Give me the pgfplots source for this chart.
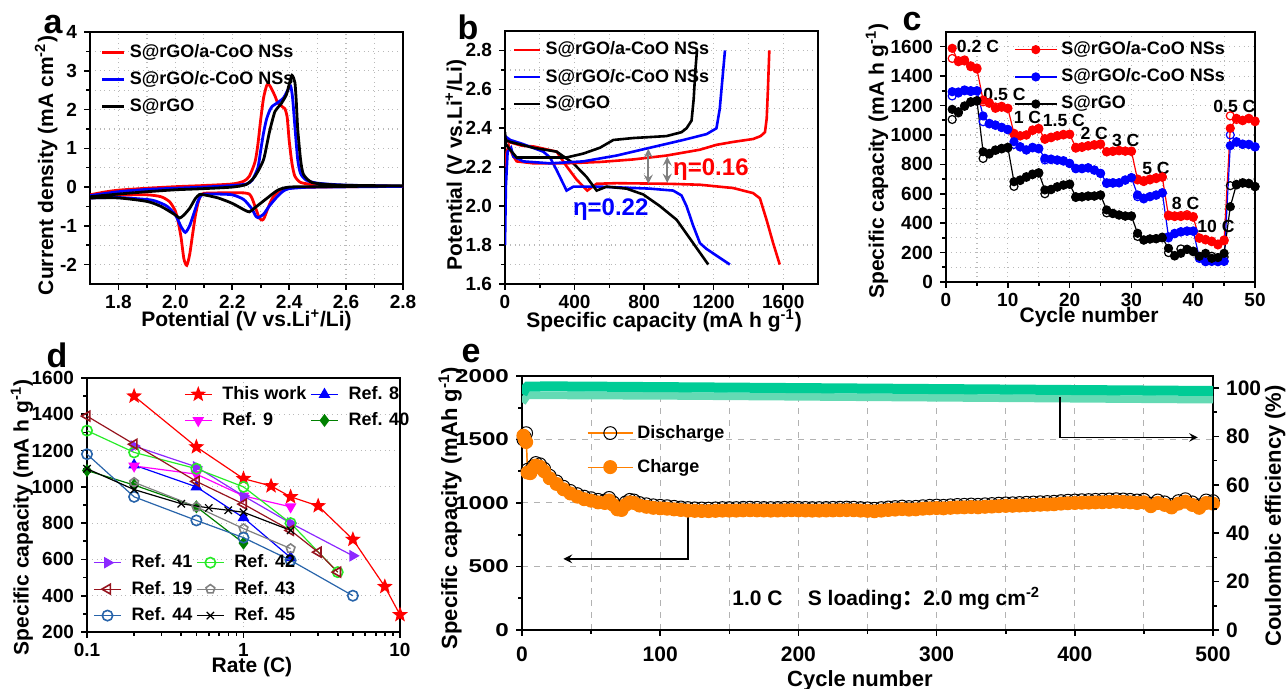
\documentclass[border=0pt]{standalone}
\usepackage{fontspec}
\setmainfont{Liberation Sans}
\newfontfamily\cjk{Noto Sans CJK SC}
\newfontfamily\widefont{Liberation Sans}[FakeStretch=1.3]
\usepackage{pgfplots}
\usepackage{pgfplotstable}
\pgfplotsset{compat=1.18}
\usetikzlibrary{plotmarks}

\definecolor{cered}{RGB}{255,0,0}
\definecolor{ceblue}{RGB}{0,0,255}
\definecolor{refmag}{RGB}{255,0,255}
\definecolor{refdkgreen}{RGB}{0,128,0}
\definecolor{refpurple}{RGB}{140,40,255}
\definecolor{reflime}{RGB}{40,235,40}
\definecolor{refmaroon}{RGB}{150,20,30}
\definecolor{refgray}{RGB}{128,128,128}
\definecolor{refsteel}{RGB}{40,100,170}
\definecolor{chgorange}{RGB}{255,128,0}
\definecolor{cegreen}{RGB}{0,204,150}
\definecolor{cegreenlt}{RGB}{100,218,180}

% filled five-pointed star
\pgfdeclareplotmark{fstar}{%
  \pgfpathmoveto{\pgfqpointpolar{90}{\pgfplotmarksize}}%
  \pgfpathlineto{\pgfqpointpolar{126}{0.42\pgfplotmarksize}}%
  \pgfpathlineto{\pgfqpointpolar{162}{\pgfplotmarksize}}%
  \pgfpathlineto{\pgfqpointpolar{198}{0.42\pgfplotmarksize}}%
  \pgfpathlineto{\pgfqpointpolar{234}{\pgfplotmarksize}}%
  \pgfpathlineto{\pgfqpointpolar{270}{0.42\pgfplotmarksize}}%
  \pgfpathlineto{\pgfqpointpolar{306}{\pgfplotmarksize}}%
  \pgfpathlineto{\pgfqpointpolar{342}{0.42\pgfplotmarksize}}%
  \pgfpathlineto{\pgfqpointpolar{18}{\pgfplotmarksize}}%
  \pgfpathlineto{\pgfqpointpolar{54}{0.42\pgfplotmarksize}}%
  \pgfpathclose\pgfusepathqfillstroke}

\pgfplotsset{
  panel/.style={
    scale only axis, anchor=south west,
    axis line style={line width=1pt},
    tick pos=left, tick align=outside,
    major tick length=3pt, minor tick length=1.8pt,
    every tick/.style={line width=0.8pt, black},
    /pgf/number format/assume math mode=true,
    /pgf/number format/1000 sep={},
    tick label style={font=\bfseries\fontsize{9.5}{10}\selectfont},
    xticklabel style={yshift=1pt},
    label style={font=\bfseries\fontsize{10.5}{12}\selectfont},
    legend style={draw=none, fill=none, font=\bfseries\fontsize{9}{10}\selectfont},
    legend cell align=left,
    grid style={gray!55, dotted, line width=0.6pt},
  },
  shortleg/.style={legend image code/.code={\draw[##1] (0pt,0pt) -- (#1,0pt);}},
  markleg/.style={legend image code/.code={%
    \draw[mark repeat=2, mark phase=2, ##1] plot coordinates {(0pt,0pt) (#1/2,0pt) (#1,0pt)};}},
}

% long cycling, 1.0 C
\pgfplotstableread{
n chg dis
1 1530 1500
2 1500 1520
3 1480 1550
4 1240 1262
6 1235 1255
8 1270 1290
10 1295 1315
13 1285 1305
16 1250 1270
20 1195 1215
25 1150 1170
30 1108 1128
35 1075 1095
40 1050 1070
45 1030 1050
50 1018 1038
55 1005 1025
60 1000 1020
63 1020 1040
66 985 1005
69 950 970
72 945 965
75 985 1005
78 1005 1025
81 1000 1020
85 980 1000
90 970 990
95 962 982
100 958 978
105 955 975
110 950 970
115 945 965
120 940 960
125 938 958
130 937 957
135 936 956
140 938 958
145 940 960
150 940 960
155 940 960
160 942 962
165 943 963
170 942 962
175 941 961
180 940 960
185 941 961
190 942 962
195 943 963
200 942 962
205 941 961
210 940 960
215 940 960
220 941 961
225 942 962
230 943 963
235 944 964
240 943 963
245 940 960
250 938 958
255 935 955
260 940 960
265 945 965
270 948 968
275 952 972
280 948 968
285 950 970
290 955 975
295 958 978
300 960 980
305 958 978
310 962 982
315 965 985
320 966 986
325 968 988
330 966 986
335 970 990
340 972 992
345 975 995
350 977 997
355 978 998
360 980 1000
365 982 1002
370 984 1004
375 986 1006
380 988 1008
385 990 1010
390 995 1015
395 998 1018
400 1000 1020
405 1002 1022
410 1003 1023
415 1005 1025
420 1006 1026
425 1008 1028
430 1010 1030
435 1008 1028
440 1005 1025
445 1000 1020
450 1005 1025
455 975 995
460 1000 1020
465 985 1005
470 965 985
475 995 1015
480 1010 1030
485 985 1005
490 962 982
495 1000 1020
500 995 1015
}\cyctab

\pgfplotstableread{
n ce celow
0.3 97.5 94.0
2 99.5 95.5
4 100.6 97.0
20 100.7 97.0
50 100.6 96.9
100 100.4 96.8
150 100.2 96.6
200 100.0 96.4
250 99.8 96.2
300 99.6 96.0
350 99.4 95.8
400 99.2 95.6
450 99.0 95.4
500 98.8 95.2
}\cetab

\begin{document}
\begin{tikzpicture}
\path[use as bounding box] (0,0) rectangle (644pt,344.5pt);

% ---------------- a: CV ----------------
\begin{axis}[panel, at={(45pt,202.5pt)}, width=156.5pt, height=126pt,
    xmin=1.7, xmax=2.8, ymin=-2.5, ymax=4,
    xtick={1.8,2.0,2.2,2.4,2.6,2.8}, minor x tick num=1,
    ytick={-2,-1,0,1,2,3,4}, minor y tick num=1,
    xticklabel style={/pgf/number format/.cd, fixed, fixed zerofill, precision=1},
    grid=both,
    xlabel={Potential (V vs.Li\textsuperscript{+}/Li)},
    ylabel={Current density (mA cm\textsuperscript{-2})},
    xlabel style={at={(axis description cs:0.5,-0.145)}, anchor=center},
    ylabel style={at={(axis description cs:-0.14,0.47)}, anchor=center},
    shortleg=11pt,
    legend style={at={(0.015,0.985)}, anchor=north west, row sep=1.5pt}]
\addplot[cered, line width=1.4pt, smooth, tension=0.4] coordinates {
 (1.70,-0.20) (1.75,-0.13) (1.80,-0.08) (1.90,-0.03) (2.00,0.01) (2.10,0.04)
 (2.20,0.08) (2.24,0.15) (2.26,0.28) (2.28,0.65) (2.29,1.10) (2.30,1.75)
 (2.31,2.30) (2.32,2.60) (2.326,2.66) (2.335,2.58) (2.35,2.35) (2.36,2.17)
 (2.375,2.08) (2.385,2.02) (2.393,1.80) (2.40,1.20) (2.41,0.60) (2.42,0.28)
 (2.44,0.12) (2.48,0.07) (2.55,0.04) (2.65,0.03) (2.80,0.02)
 (2.60,0.01) (2.50,0.00) (2.42,-0.01) (2.38,-0.05) (2.36,-0.13) (2.34,-0.30)
 (2.325,-0.55) (2.312,-0.80) (2.305,-0.85) (2.295,-0.80) (2.285,-0.60)
 (2.27,-0.30) (2.26,-0.18) (2.24,-0.15) (2.20,-0.15) (2.15,-0.15) (2.10,-0.16)
 (2.09,-0.20) (2.08,-0.40) (2.07,-0.75) (2.06,-1.25) (2.05,-1.75) (2.04,-2.02)
 (2.03,-1.85) (2.02,-1.30) (2.01,-0.90) (2.00,-0.62) (1.98,-0.38) (1.95,-0.25)
 (1.90,-0.20) (1.80,-0.21) (1.70,-0.28)};
\addlegendentry{S@rGO/a-CoO NSs}
\addplot[ceblue, line width=1.4pt, smooth, tension=0.4] coordinates {
 (1.70,-0.22) (1.80,-0.12) (1.90,-0.06) (2.00,-0.03) (2.10,0.00) (2.20,0.04)
 (2.25,0.08) (2.27,0.18) (2.29,0.50) (2.30,0.95) (2.31,1.40) (2.32,1.74)
 (2.33,1.95) (2.34,2.08) (2.36,2.18) (2.38,2.30) (2.395,2.50) (2.405,2.61)
 (2.412,2.30) (2.42,1.57) (2.43,0.71) (2.44,0.35) (2.46,0.18) (2.50,0.10)
 (2.60,0.05) (2.80,0.02)
 (2.50,0.00) (2.45,-0.01) (2.40,-0.04) (2.38,-0.10) (2.36,-0.23) (2.33,-0.49)
 (2.31,-0.70) (2.29,-0.79) (2.28,-0.72) (2.27,-0.57) (2.24,-0.32) (2.20,-0.20)
 (2.15,-0.18) (2.10,-0.18) (2.09,-0.22) (2.08,-0.35) (2.07,-0.57) (2.05,-1.00)
 (2.035,-1.17) (2.02,-1.02) (2.00,-0.72) (1.97,-0.49) (1.93,-0.36) (1.90,-0.32)
 (1.80,-0.27) (1.70,-0.28)};
\addlegendentry{S@rGO/c-CoO NSs}
\addplot[black, line width=1.4pt, smooth, tension=0.4] coordinates {
 (1.70,-0.25) (1.80,-0.18) (1.90,-0.12) (2.00,-0.07) (2.10,-0.04) (2.20,0.00)
 (2.25,0.07) (2.28,0.28) (2.31,0.71) (2.33,1.40) (2.35,1.95) (2.37,2.13)
 (2.39,2.38) (2.40,2.65) (2.41,2.88) (2.42,2.70) (2.425,2.20) (2.43,1.50)
 (2.44,0.71) (2.45,0.33) (2.48,0.12) (2.55,0.06) (2.65,0.04) (2.80,0.03)
 (2.50,0.01) (2.40,0.00) (2.36,-0.08) (2.32,-0.30) (2.28,-0.53) (2.26,-0.64)
 (2.24,-0.58) (2.20,-0.42) (2.15,-0.28) (2.10,-0.20) (2.085,-0.19) (2.07,-0.30)
 (2.05,-0.55) (2.03,-0.72) (2.015,-0.80) (2.00,-0.72) (1.95,-0.50) (1.90,-0.37)
 (1.80,-0.28) (1.70,-0.28)};
\addlegendentry{S@rGO}
\end{axis}
\node[font=\bfseries\fontsize{17}{17}\selectfont] at (26.5pt,332pt) {a};

% ---------------- b: charge/discharge ----------------
\begin{axis}[panel, at={(252.5pt,202.5pt)}, width=156.5pt, height=126.5pt,
    xmin=0, xmax=1800, ymin=1.6, ymax=2.9,
    xtick={0,400,800,1200,1600}, minor x tick num=1,
    ytick={1.6,1.8,2.0,2.2,2.4,2.6,2.8}, minor y tick num=1,
    yticklabel style={/pgf/number format/.cd, fixed, fixed zerofill, precision=1},
    grid=both,
    xlabel={Specific capacity (mA h g\textsuperscript{-1})},
    ylabel={Potential (V vs.Li\textsuperscript{+}/Li)},
    xlabel style={at={(axis description cs:0.508,-0.145)}, anchor=center},
    ylabel style={at={(axis description cs:-0.157,0.47)}, anchor=center},
    shortleg=13pt,
    legend style={at={(0.005,0.99)}, anchor=north west, row sep=1.5pt}]
\addplot[cered, line width=1.3pt] coordinates {
 (0,2.35) (20,2.33) (100,2.31) (163,2.307) (297,2.28) (354,2.205) (412,2.136)
 (473,2.08) (527,2.115) (642,2.118) (929,2.115) (1121,2.11) (1312,2.093)
 (1427,2.067) (1466,2.04) (1504,1.93) (1542,1.81) (1580,1.70)};
\addlegendentry{S@rGO/a-CoO NSs}
\addplot[ceblue, line width=1.3pt] coordinates {
 (0,2.36) (30,2.34) (100,2.32) (220,2.28) (259,2.25) (297,2.185) (354,2.08)
 (393,2.10) (546,2.10) (833,2.09) (967,2.08) (1015,2.055) (1044,2.0)
 (1082,1.9) (1121,1.81) (1159,1.78) (1293,1.70)};
\addlegendentry{S@rGO/c-CoO NSs}
\addplot[black, line width=1.3pt] coordinates {
 (0,2.34) (30,2.33) (163,2.30) (297,2.28) (393,2.22) (469,2.15) (527,2.08)
 (584,2.10) (699,2.09) (795,2.06) (891,2.0) (987,1.93) (1082,1.81) (1169,1.70)};
\addlegendentry{S@rGO}
\addplot[cered, line width=1.3pt, forget plot] coordinates {
 (0,2.20) (10,2.28) (22,2.31) (45,2.26) (67,2.23) (163,2.22) (354,2.22)
 (546,2.227) (738,2.24) (929,2.26) (1121,2.29) (1216,2.315) (1312,2.33)
 (1427,2.345) (1470,2.36) (1495,2.38) (1505,2.45) (1512,2.6) (1520,2.8)};
\addplot[ceblue, line width=1.3pt, forget plot] coordinates {
 (0,1.80) (5,2.10) (15,2.28) (35,2.30) (48,2.255) (105,2.23) (259,2.22)
 (450,2.23) (642,2.26) (833,2.30) (1025,2.34) (1159,2.37) (1216,2.40)
 (1235,2.50) (1250,2.65) (1265,2.80)};
\addplot[black, line width=1.3pt, forget plot] coordinates {
 (0,2.38) (5,2.32) (20,2.30) (67,2.25) (163,2.25) (354,2.25) (450,2.27)
 (546,2.30) (623,2.34) (738,2.35) (929,2.36) (1015,2.38) (1044,2.40)
 (1073,2.44) (1085,2.55) (1095,2.7) (1104,2.80)};
\draw[gray, line width=1pt, <->, >=stealth] (axis cs:824,2.115) -- (axis cs:824,2.295);
\draw[gray, line width=1pt, <->, >=stealth] (axis cs:933,2.12) -- (axis cs:933,2.255);
\node[anchor=west, text=cered, font=\bfseries\fontsize{12}{12}\selectfont, inner sep=0pt] at (axis cs:965,2.19) {η=0.16};
\node[anchor=west, text=ceblue, font=\bfseries\fontsize{12}{12}\selectfont, inner sep=0pt] at (axis cs:389,1.98) {η=0.22};
\end{axis}
\node[font=\bfseries\fontsize{17}{17}\selectfont] at (234pt,331pt) {b};

% ---------------- c: rate ----------------
\begin{axis}[panel, at={(473pt,203.5pt)}, width=154.5pt, height=125pt,
    xmin=0, xmax=50, ymin=0, ymax=1700,
    xtick={0,10,20,30,40,50}, minor x tick num=1,
    ytick={0,200,...,1600}, minor y tick num=1,
    grid=both,
    xlabel={Cycle number},
    ylabel={Specific capacity (mA h g\textsuperscript{-1})},
    xlabel style={at={(axis description cs:0.463,-0.14)}, anchor=center},
    ylabel style={at={(axis description cs:-0.223,0.484)}, anchor=center},
    markleg=21pt,
    legend style={at={(0.2,0.995)}, anchor=north west, row sep=1.6pt}]
\addplot[only marks, mark=o, mark size=2pt, mark options={fill=white, draw=cered, line width=0.6pt}, forget plot] coordinates {
 (1,1520) (2,1505) (3,1510) (4,1470) (5,1455) (6,1225) (7,1215) (8,1190) (9,1195) (10,1180)
 (11,1005) (12,995) (13,1000) (14,1030) (15,1040) (16,975) (17,985) (18,995) (19,1000) (20,1005)
 (21,910) (22,915) (23,925) (24,930) (25,935) (26,885) (27,888) (28,892) (29,890) (30,888)
 (31,700) (32,690) (33,700) (34,710) (35,715) (36,455) (37,450) (38,452) (39,458) (40,445)
 (41,300) (42,290) (43,278) (44,258) (45,280) (46,1130) (47,1105) (48,1100) (49,1110) (50,1095)};
\addplot[only marks, mark=o, mark size=2pt, mark options={fill=white, draw=ceblue, line width=0.6pt}, forget plot] coordinates {
 (1,1265) (2,1285) (3,1300) (4,1295) (5,1298) (6,1090) (7,1075) (8,1065) (9,1050) (10,1035)
 (11,935) (12,918) (13,898) (14,912) (15,905) (16,830) (17,832) (18,828) (19,822) (20,805)
 (21,770) (22,770) (23,775) (24,760) (25,738) (26,670) (27,672) (28,674) (29,692) (30,708)
 (31,580) (32,565) (33,580) (34,590) (35,605) (36,300) (37,328) (38,340) (39,345) (40,345)
 (41,160) (42,140) (43,142) (44,140) (45,142) (46,1000) (47,950) (48,935) (49,935) (50,918)};
\addplot[only marks, mark=o, mark size=2pt, mark options={fill=white, draw=black, line width=0.6pt}, forget plot] coordinates {
 (1,1105) (2,1150) (3,1195) (4,1222) (5,1230) (6,840) (7,870) (8,895) (9,905) (10,912)
 (11,650) (12,690) (13,712) (14,730) (15,740) (16,600) (17,628) (18,645) (19,658) (20,664)
 (21,575) (22,578) (23,583) (24,584) (25,590) (26,470) (27,465) (28,455) (29,448) (30,448)
 (31,310) (32,285) (33,292) (34,294) (35,305) (36,200) (37,180) (38,225) (39,222) (40,210)
 (41,170) (42,160) (43,175) (44,165) (45,170) (46,655) (47,660) (48,672) (49,668) (50,650)};
\addplot[cered, line width=0.6pt, mark=*, mark size=2pt] coordinates {
 (1,1589) (2,1498) (3,1503) (4,1464) (5,1448) (6,1237) (7,1219) (8,1181) (9,1188) (10,1181)
 (11,1011) (12,993) (13,1000) (14,1034) (15,1045) (16,970) (17,981) (18,993) (19,1004) (20,1004)
 (21,916) (22,920) (23,927) (24,934) (25,939) (26,886) (27,890) (28,895) (29,890) (30,890)
 (31,694) (32,683) (33,694) (34,703) (35,712) (36,449) (37,445) (38,445) (39,450) (40,440)
 (41,297) (42,286) (43,274) (44,252) (45,286) (46,1045) (47,1113) (48,1097) (49,1113) (50,1090)};
\addlegendentry{S@rGO/a-CoO NSs}
\addplot[ceblue, line width=0.6pt, mark=*, mark size=2pt] coordinates {
 (1,1294) (2,1292) (3,1306) (4,1301) (5,1301) (6,1129) (7,1079) (8,1068) (9,1052) (10,1038)
 (11,954) (12,920) (13,898) (14,916) (15,909) (16,841) (17,836) (18,830) (19,825) (20,807)
 (21,773) (22,773) (23,777) (24,762) (25,739) (26,675) (27,675) (28,675) (29,694) (30,710)
 (31,592) (32,570) (33,581) (34,592) (35,607) (36,308) (37,331) (38,342) (39,347) (40,347)
 (41,165) (42,138) (43,140) (44,138) (45,140) (46,927) (47,954) (48,938) (49,936) (50,920)};
\addlegendentry{S@rGO/c-CoO NSs}
\addplot[black, line width=0.6pt, mark=*, mark size=2pt] coordinates {
 (1,1174) (2,1158) (3,1197) (4,1226) (5,1233) (6,886) (7,875) (8,898) (9,909) (10,916)
 (11,682) (12,694) (13,716) (14,734) (15,743) (16,626) (17,630) (18,648) (19,660) (20,666)
 (21,580) (22,580) (23,585) (24,585) (25,592) (26,490) (27,467) (28,456) (29,449) (30,449)
 (31,331) (32,286) (33,293) (34,295) (35,300) (36,229) (37,177) (38,195) (39,222) (40,206)
 (41,175) (42,195) (43,161) (44,166) (45,195) (46,512) (47,664) (48,675) (49,671) (50,648)};
\addlegendentry{S@rGO}
\begin{scope}[every node/.style={font=\bfseries\fontsize{8.8}{9}\selectfont, inner sep=0pt, anchor=west}]
\node at (axis cs:1.7,1605) {0.2 C};
\node at (axis cs:6,1278) {0.5 C};
\node at (axis cs:10.9,1120) {1 C};
\node at (axis cs:15.6,1100) {1.5 C};
\node at (axis cs:21.7,1011) {2 C};
\node at (axis cs:26.8,965) {3 C};
\node at (axis cs:31.7,773) {5 C};
\node at (axis cs:36.5,535) {8 C};
\node at (axis cs:40.6,376) {10 C};
\node at (axis cs:43.2,1192) {0.5 C};
\end{scope}
\end{axis}
\node[font=\bfseries\fontsize{17}{17}\selectfont] at (456pt,333.5pt) {c};

% ---------------- d: comparison ----------------
\begin{axis}[panel, at={(43.5pt,28.5pt)}, width=156.5pt, height=127pt,
    xmode=log, xmin=0.1, xmax=10, ymin=200, ymax=1600,
    xtick={0.1,1,10}, xticklabels={0.1,1,10},
    ytick={200,400,...,1600}, minor y tick num=1,
    grid=major,
    xlabel={Rate (C)},
    ylabel={Specific capacity (mA h g\textsuperscript{-1})},
    xlabel style={at={(axis description cs:0.527,-0.14)}, anchor=center},
    ylabel style={at={(axis description cs:-0.208,0.451)}, anchor=center},
    markleg=13.5pt,
    legend columns=2,
    legend style={at={(0.29,1.0)}, anchor=north west, row sep=1pt,
      /tikz/every odd column/.append style={column sep=3pt}}]
\addplot[cered, line width=0.6pt, mark=fstar, mark size=3.3pt] coordinates {
 (0.2,1500) (0.5,1220) (1,1045) (1.5,1005) (2,945) (3,895) (5,710) (8,450) (10,295)};
\addlegendentry{This work}
\addplot[ceblue, line width=0.6pt, mark=triangle*, mark size=2.8pt] coordinates {
 (0.2,1120) (0.5,1000) (1,830) (2,610)};
\addlegendentry{Ref. 8}
\addplot[refmag, line width=0.6pt, mark=triangle*, mark size=2.8pt, mark options={rotate=180}] coordinates {
 (0.2,1115) (0.5,1070) (1,950) (2,890)};
\addlegendentry{Ref. 9}
\addplot[refdkgreen, line width=0.6pt, mark=diamond*, mark size=2.8pt] coordinates {
 (0.1,1090) (0.2,1010) (0.5,890) (1,690)};
\addlegendentry{Ref. 40}
\end{axis}
\begin{axis}[panel, at={(43.5pt,28.5pt)}, width=156.5pt, height=127pt,
    xmode=log, xmin=0.1, xmax=10, ymin=200, ymax=1600, hide axis,
    markleg=13.5pt,
    legend columns=2,
    legend style={at={(0.0,0.0)}, anchor=south west, row sep=1.2pt,
      /tikz/every odd column/.append style={column sep=3pt}}]
\addplot[refpurple, line width=0.6pt, mark=triangle*, mark size=2.8pt, mark options={rotate=-90}] coordinates {
 (0.2,1225) (0.5,1110) (1,950) (2,800) (5,620)};
\addlegendentry{Ref. 41}
\addplot[reflime, line width=0.6pt, mark=o, mark size=2.6pt, mark options={line width=0.8pt}] coordinates {
 (0.1,1310) (0.2,1190) (0.5,1100) (1,1000) (2,800) (4,530)};
\addlegendentry{Ref. 42}
\addplot[refmaroon, line width=0.6pt, mark=triangle, mark size=2.8pt, mark options={rotate=90, line width=0.8pt}] coordinates {
 (0.1,1390) (0.2,1235) (0.5,1030) (1,905) (2,760) (3,640) (4,530)};
\addlegendentry{Ref. 19}
\addplot[refgray, line width=0.6pt, mark=pentagon, mark size=2.3pt, mark options={line width=0.8pt}] coordinates {
 (0.2,1025) (0.5,890) (1,770) (2,660)};
\addlegendentry{Ref. 43}
\addplot[refsteel, line width=0.6pt, mark=o, mark size=2.6pt, mark options={line width=0.8pt}] coordinates {
 (0.1,1180) (0.2,945) (0.5,815) (1,720) (2,595) (5,400)};
\addlegendentry{Ref. 44}
\addplot[black, line width=0.6pt, mark=x, mark size=2.6pt] coordinates {
 (0.1,1100) (0.2,985) (0.4,907) (0.6,884) (0.8,871) (1,860) (2,760)};
\addlegendentry{Ref. 45}
\end{axis}
\node[font=\bfseries\fontsize{17}{17}\selectfont] at (28.5pt,167pt) {d};

% ---------------- e: long cycling ----------------
\begin{axis}[panel, at={(261pt,29.5pt)}, width=345.5pt, height=127pt,
    xmin=0, xmax=500, ymin=0, ymax=2000,
    xtick={0,100,...,500}, minor x tick num=1,
    ytick={0,500,...,2000}, minor y tick num=1,
    xmajorgrids, xminorgrids, ymajorgrids,
    grid style={gray!60, dashed, line width=0.5pt},
    xticklabel style={font=\bfseries\fontsize{10.5}{11}\selectfont, yshift=-3pt},
    yticklabel style={font=\widefont\bfseries\fontsize{9.3}{10}\selectfont},
    xlabel={Cycle number},
    ylabel={Specific capacity (mAh g\textsuperscript{-1})},
    label style={font=\bfseries\fontsize{11}{12}\selectfont},
    xlabel style={at={(axis description cs:0.489,-0.2)}, anchor=center},
    ylabel style={at={(axis description cs:-0.104,0.48)}, anchor=center},
    markleg=22.5pt,
    legend style={at={(0.085,0.84)}, anchor=north west, row sep=5pt}]
\addplot[chgorange, line width=0.6pt, mark=o, mark size=3.2pt, mark options={draw=black, line width=0.5pt}] table[x=n, y=dis] {\cyctab};
\addlegendentry{Discharge}
\addplot[chgorange, line width=0.6pt, mark=*, mark size=3.2pt, mark options={draw=chgorange, fill=chgorange}] table[x=n, y=chg] {\cyctab};
\addlegendentry{Charge}
\draw[black, line width=0.9pt, -stealth] (axis cs:120,915) -- (axis cs:120,560) -- (axis cs:30,560);
\node[font=\bfseries\fontsize{10.5}{11}\selectfont, anchor=west, inner sep=0pt] at (axis cs:152,250)
  {1.0 C\hspace{1.2em}S loading{\cjk ：}2.0 mg cm\textsuperscript{-2}};
\end{axis}
\begin{axis}[panel, at={(261pt,29.5pt)}, width=345.5pt, height=127pt,
    xmin=0, xmax=500, ymin=0, ymax=105,
    axis x line=none, axis y line*=right,
    ytick pos=right, yticklabel pos=right,
    ytick={0,20,...,100}, minor y tick num=1,
    yticklabel style={font=\bfseries\fontsize{10.5}{11}\selectfont},
    ylabel={Coulombic efficiency (\%)},
    label style={font=\bfseries\fontsize{11}{12}\selectfont},
    ylabel style={at={(axis description cs:1.09,0.449)}, anchor=center}]
\addplot[cegreenlt, line width=3.8pt] table[x=n, y=celow] {\cetab};
\addplot[cegreen, line width=5pt] table[x=n, y=ce] {\cetab};
\draw[black, line width=0.9pt, -stealth] (axis cs:389,96.5) -- (axis cs:389,79.6) -- (axis cs:489,79.6);
\end{axis}
\node[font=\bfseries\fontsize{17}{17}\selectfont] at (235.5pt,167.5pt) {e};
\end{tikzpicture}
\end{document}
